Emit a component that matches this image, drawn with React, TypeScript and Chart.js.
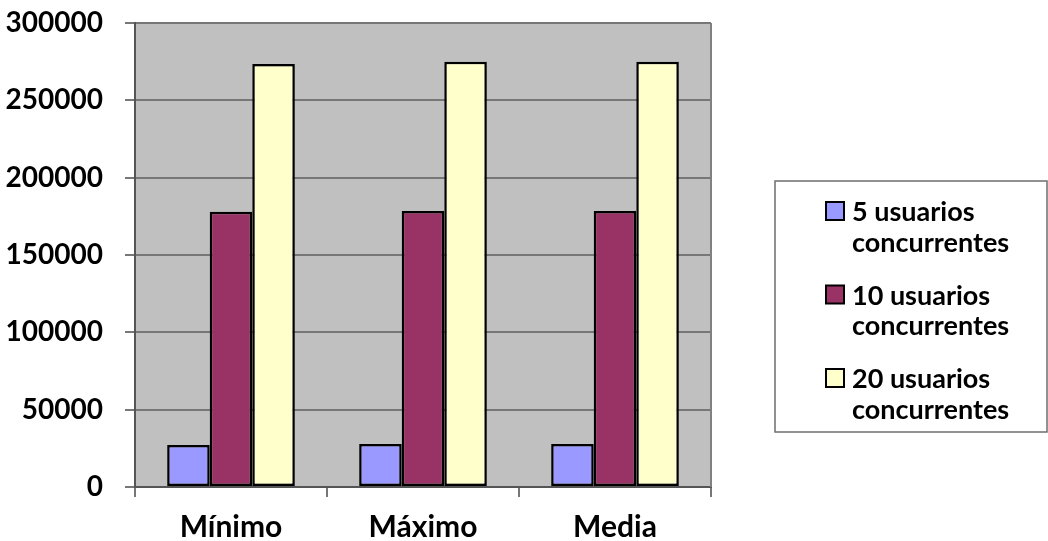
import React, { useEffect, useRef } from "react";
import { Chart, registerables } from "chart.js";

Chart.register(...registerables);

const categories = ["Mínimo", "Máximo", "Media"];
const seriesLabels = ["5 usuarios concurrentes", "10 usuarios concurrentes", "20 usuarios concurrentes"];
const users5 = [27200, 27800, 27800];
const users10 = [178000, 178400, 178400];
const users20 = [273500, 275000, 275000];
const seriesColors = ["#9999ff", "#993366", "#ffffcc"];
const yMin = 0;
const yMax = 300000;
const yStep = 50000;

const FONT = "Lato, 'Open Sans', sans-serif";
const WEIGHT = "bold";

const plotBg = {
  id: "plotBg",
  beforeDraw(chart: any) {
    const { ctx, chartArea: a } = chart;
    ctx.save();
    ctx.fillStyle = "#c0c0c0";
    ctx.fillRect(a.left, a.top, a.right - a.left, a.bottom - a.top);
    ctx.restore();
  },
  beforeDatasetsDraw(chart: any) {
    const { ctx, chartArea: a } = chart;
    ctx.save();
    ctx.strokeStyle = "#808080";
    ctx.lineWidth = 2;
    ctx.beginPath();
    ctx.moveTo(a.right, a.top);
    ctx.lineTo(a.right, a.bottom);
    ctx.stroke();
    ctx.restore();
  },
};

const boxLegend = {
  id: "boxLegend",
  afterDraw(chart: any) {
    const { ctx } = chart;
    const left = 775;
    const top = 181;
    const right = 1047;
    const bottom = 432;
    ctx.save();
    ctx.strokeStyle = "#6e6e6e";
    ctx.lineWidth = 1.5;
    ctx.strokeRect(left, top, right - left, bottom - top);
    ctx.font = `${WEIGHT} 27px ${FONT}`;
    ctx.fillStyle = "#000";
    ctx.textBaseline = "alphabetic";
    ctx.textAlign = "left";
    chart.data.datasets.forEach((ds: any, i: number) => {
      const baseY = 221 + i * 83.5;
      const sw = 18;
      ctx.fillStyle = ds.backgroundColor;
      ctx.fillRect(826, baseY - 19, sw, sw);
      ctx.strokeStyle = "#000";
      ctx.lineWidth = 2;
      ctx.strokeRect(826, baseY - 19, sw, sw);
      const label: string = ds.label;
      const idx = label.lastIndexOf(" ");
      ctx.fillStyle = "#000";
      ctx.fillText(label.slice(0, idx), 852, baseY);
      ctx.fillText(label.slice(idx + 1), 852, baseY + 30.5);
    });
    ctx.restore();
  },
};

export default function App() {
  const ref = useRef<HTMLCanvasElement | null>(null);

  useEffect(() => {
    if (!ref.current) return;
    const values = [users5, users10, users20];
    const chart = new Chart(ref.current, {
      type: "bar",
      data: {
        labels: categories,
        datasets: values.map((v, i) => ({
          label: seriesLabels[i],
          data: v,
          backgroundColor: seriesColors[i],
          borderColor: "#000",
          borderWidth: 2.5,
          borderSkipped: false,
          categoryPercentage: 0.665,
          barPercentage: 1,
        })),
      },
      options: {
        responsive: false,
        animation: false,
        layout: { padding: { top: 23, right: 337, bottom: 0, left: 0 } },
        plugins: {
          legend: { display: false },
          tooltip: { enabled: false },
          title: { display: false },
        },
        scales: {
          x: {
            afterFit(scale: any) {
              scale.height = 54;
              scale.paddingLeft = 0;
              scale.paddingRight = 0;
            },
            grid: {
              offset: true,
              drawOnChartArea: false,
              drawTicks: true,
              tickLength: 10,
              color: "#777",
              lineWidth: 2,
            },
            border: { display: true, color: "#555", width: 2 },
            ticks: {
              color: "#000",
              padding: 12,
              font: { family: FONT, weight: WEIGHT, size: 30 },
            },
          },
          y: {
            min: yMin,
            max: yMax,
            afterFit(scale: any) {
              scale.width = 135;
              scale.paddingTop = 0;
              scale.paddingBottom = 0;
            },
            grid: {
              drawOnChartArea: true,
              drawTicks: true,
              tickLength: 10,
              color: "#777",
              lineWidth: 2,
            },
            border: { display: true, color: "#555", width: 2 },
            ticks: {
              stepSize: yStep,
              color: "#000",
              padding: 22,
              font: { family: FONT, weight: WEIGHT, size: 28 },
              callback: (v: any) => String(v),
            },
          },
        },
      },
      plugins: [plotBg, boxLegend],
    });
    return () => chart.destroy();
  }, []);

  return (
    <div style={{ position: "absolute", left: 0, top: 0, width: 1048, height: 541, background: "#fff" }}>
      <canvas ref={ref} width={1048} height={541} />
    </div>
  );
}
